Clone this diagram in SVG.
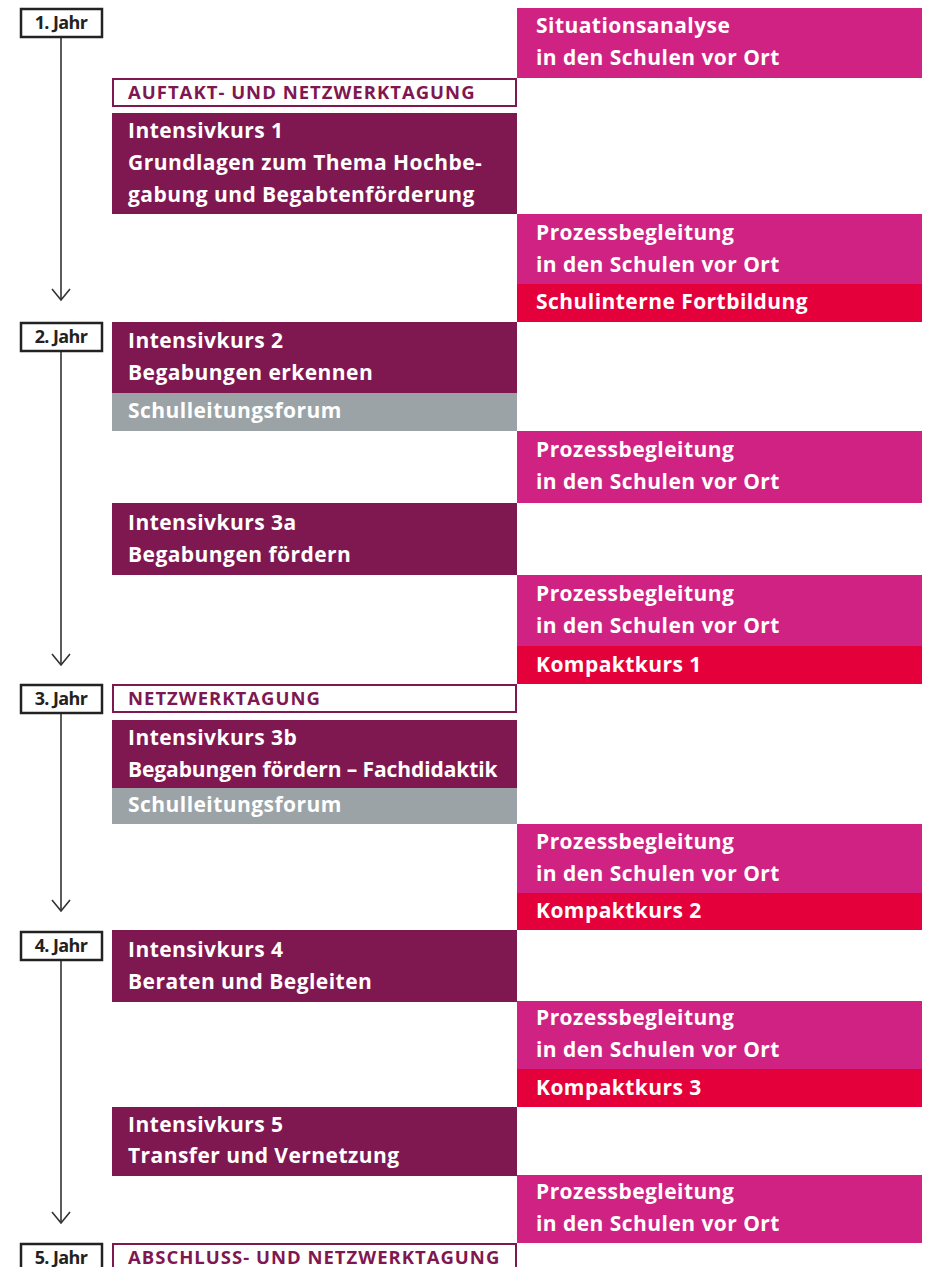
<svg xmlns="http://www.w3.org/2000/svg" width="931" height="1267" viewBox="0 0 931 1267">
<style>
text{font-family:"Open Sans","Noto Sans","Liberation Sans",sans-serif;font-weight:700}
.t{fill:#ffffff;font-size:21px;letter-spacing:0.45px}
.o{fill:#7f1751;font-size:18.5px;letter-spacing:1px}
.y{fill:#222222;font-size:18px;letter-spacing:-0.6px;text-anchor:middle}
.dp{fill:#7f1751}
.mg{fill:#d02282}
.rd{fill:#e4003a}
.gr{fill:#9ca3a6}
.ob{fill:#ffffff;stroke:#7f1751;stroke-width:2}
.yb{fill:#ffffff;stroke:#222222;stroke-width:2.5}
.ln{stroke:#333333;stroke-width:1.6;fill:none}
</style>
<defs>
<marker id="ah" markerUnits="userSpaceOnUse" markerWidth="24" markerHeight="24" refX="12" refY="12" orient="auto" viewBox="0 0 24 24">
<path d="M1,3 L12,12 L1,21" fill="none" stroke="#333333" stroke-width="1.6"/>
</marker>
</defs>
<g id="connectors">
<line class="ln" x1="61" y1="37" x2="61" y2="300" marker-end="url(#ah)"/>
<line class="ln" x1="61" y1="351" x2="61" y2="665" marker-end="url(#ah)"/>
<line class="ln" x1="61" y1="713" x2="61" y2="911" marker-end="url(#ah)"/>
<line class="ln" x1="61" y1="960" x2="61" y2="1223" marker-end="url(#ah)"/>
</g>
<g id="year1"><rect class="yb" x="21" y="9" width="81" height="28"/><text class="y" x="61" y="29">1. Jahr</text></g>
<g id="year2"><rect class="yb" x="21" y="323" width="81" height="28"/><text class="y" x="61" y="343">2. Jahr</text></g>
<g id="year3"><rect class="yb" x="21" y="685" width="81" height="28"/><text class="y" x="61" y="705">3. Jahr</text></g>
<g id="year4"><rect class="yb" x="21" y="932" width="81" height="28"/><text class="y" x="61" y="952">4. Jahr</text></g>
<g id="year5"><rect class="yb" x="21" y="1244" width="81" height="28"/><text class="y" x="61" y="1264">5. Jahr</text></g>

<g id="situationsanalyse"><rect class="mg" x="517" y="8" width="405" height="70"/><text class="t" x="536" y="33">Situationsanalyse</text><text class="t" x="536" y="65">in den Schulen vor Ort</text></g>
<g id="auftakt"><rect class="ob" x="113" y="79" width="403" height="27"/><text class="o" x="128" y="99">AUFTAKT- UND NETZWERKTAGUNG</text></g>
<g id="intensivkurs1"><rect class="dp" x="112" y="113" width="405" height="101"/><text class="t" x="128" y="138">Intensivkurs 1</text><text class="t" x="128" y="170">Grundlagen zum Thema Hochbe-</text><text class="t" x="128" y="202">gabung und Begabtenförderung</text></g>
<g id="prozess1"><rect class="mg" x="517" y="214" width="405" height="70"/><text class="t" x="536" y="240">Prozessbegleitung</text><text class="t" x="536" y="272">in den Schulen vor Ort</text></g>
<g id="schulinterne"><rect class="rd" x="517" y="284" width="405" height="38"/><text class="t" x="536" y="309">Schulinterne Fortbildung</text></g>

<g id="intensivkurs2"><rect class="dp" x="112" y="322" width="405" height="71"/><text class="t" x="128" y="348">Intensivkurs 2</text><text class="t" x="128" y="380">Begabungen erkennen</text></g>
<g id="schulleitung1"><rect class="gr" x="112" y="393" width="405" height="38"/><text class="t" x="128" y="418">Schulleitungsforum</text></g>
<g id="prozess2"><rect class="mg" x="517" y="431" width="405" height="72"/><text class="t" x="536" y="457">Prozessbegleitung</text><text class="t" x="536" y="489">in den Schulen vor Ort</text></g>
<g id="intensivkurs3a"><rect class="dp" x="112" y="503" width="405" height="72"/><text class="t" x="128" y="530">Intensivkurs 3a</text><text class="t" x="128" y="562">Begabungen fördern</text></g>
<g id="prozess3"><rect class="mg" x="517" y="575" width="405" height="71"/><text class="t" x="536" y="601">Prozessbegleitung</text><text class="t" x="536" y="633">in den Schulen vor Ort</text></g>
<g id="kompaktkurs1"><rect class="rd" x="517" y="646" width="405" height="38"/><text class="t" x="536" y="672">Kompaktkurs 1</text></g>

<g id="netzwerktagung"><rect class="ob" x="113" y="685" width="403" height="27"/><text class="o" x="128" y="705">NETZWERKTAGUNG</text></g>
<g id="intensivkurs3b"><rect class="dp" x="112" y="720" width="405" height="68"/><text class="t" x="128" y="745">Intensivkurs 3b</text><text class="t" x="128" y="777" textLength="370" lengthAdjust="spacing">Begabungen fördern – Fachdidaktik</text></g>
<g id="schulleitung2"><rect class="gr" x="112" y="788" width="405" height="36"/><text class="t" x="128" y="812">Schulleitungsforum</text></g>
<g id="prozess4"><rect class="mg" x="517" y="824" width="405" height="69"/><text class="t" x="536" y="849">Prozessbegleitung</text><text class="t" x="536" y="881">in den Schulen vor Ort</text></g>
<g id="kompaktkurs2"><rect class="rd" x="517" y="893" width="405" height="37"/><text class="t" x="536" y="918">Kompaktkurs 2</text></g>

<g id="intensivkurs4"><rect class="dp" x="112" y="930" width="405" height="72"/><text class="t" x="128" y="957">Intensivkurs 4</text><text class="t" x="128" y="989">Beraten und Begleiten</text></g>
<g id="prozess5"><rect class="mg" x="517" y="1001" width="405" height="68"/><text class="t" x="536" y="1025">Prozessbegleitung</text><text class="t" x="536" y="1057">in den Schulen vor Ort</text></g>
<g id="kompaktkurs3"><rect class="rd" x="517" y="1069" width="405" height="38"/><text class="t" x="536" y="1095">Kompaktkurs 3</text></g>
<g id="intensivkurs5"><rect class="dp" x="112" y="1107" width="405" height="69"/><text class="t" x="128" y="1132">Intensivkurs 5</text><text class="t" x="128" y="1163">Transfer und Vernetzung</text></g>
<g id="prozess6"><rect class="mg" x="517" y="1175" width="405" height="68"/><text class="t" x="536" y="1199">Prozessbegleitung</text><text class="t" x="536" y="1231">in den Schulen vor Ort</text></g>
<g id="abschluss"><rect class="ob" x="113" y="1244" width="403" height="30"/><text class="o" x="128" y="1264">ABSCHLUSS- UND NETZWERKTAGUNG</text></g>
</svg>
